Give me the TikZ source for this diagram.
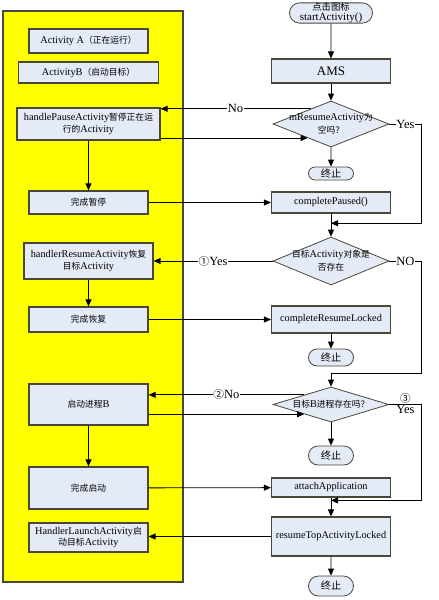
\documentclass[tikz,border=0pt]{standalone}
\usepackage{fontspec}
\setmainfont{Liberation Serif}
\newfontfamily\cjk{Noto Sans CJK SC}[Scale=0.85]
\usetikzlibrary{positioning,shapes.geometric,shapes.misc,arrows.meta,calc}
\definecolor{boxblue}{RGB}{228,235,247}
\definecolor{edgegray}{RGB}{72,72,56}
\definecolor{laneyellow}{RGB}{255,255,0}
\newcommand{\zh}[1]{{\cjk #1}}

\begin{document}
\begin{tikzpicture}[x=1pt, y=-1pt]
    \tikzstyle{lane} = [rectangle, draw=edgegray, line width=1.2pt, fill=laneyellow, minimum width=180pt, minimum height=571pt, inner sep=0pt]
    \tikzstyle{stepbox} = [rectangle, draw=edgegray, line width=1.1pt, fill=boxblue, inner sep=1pt, minimum width=119pt, text centered, align=center, font=\fontsize{10.3}{11.5}\selectfont]
    \tikzstyle{decision} = [diamond, draw=edgegray, line width=0.8pt, fill=boxblue, inner sep=0pt, minimum width=116pt, minimum height=46pt]
    \tikzstyle{dtext} = [inner sep=0pt, align=center, font=\fontsize{10.3}{13}\selectfont]
    \tikzstyle{term} = [rounded rectangle, draw=edgegray, line width=0.8pt, fill=boxblue, inner sep=0pt, minimum width=45pt, minimum height=17pt, align=center, font=\fontsize{12}{12}\selectfont]
    \tikzstyle{lbl} = [fill=white, inner sep=0.5pt, font=\fontsize{12.5}{13}\selectfont]
    \tikzstyle{flow} = [-{Triangle[length=7pt,width=6pt]}, line width=0.8pt]
    \tikzstyle{link} = [line width=0.8pt]

    \useasboundingbox (0,0) rectangle (439,600);

    % App side
    \node [lane] (lane) at (93,296.5) {};
    \node [stepbox, minimum height=24pt] (actA) at (88.5,41) {Activity A\zh{（正在运行）}};
    \node [stepbox, minimum width=140pt, minimum height=21pt] (actB) at (88.5,72.5) {ActivityB\zh{（启动目标）}};
    \node [stepbox, minimum width=143pt, minimum height=32pt] (pause) at (88.5,124) {handlePauseActivity\zh{暂停正在运}\\\zh{行的}Activity};
    \node [stepbox, minimum height=23pt] (paused) at (88.5,202.5) {\zh{完成暂停}};
    \node [stepbox, minimum width=129pt, minimum height=36pt] (resume) at (88.5,261) {handlerResumeActivity\zh{恢复}\\\zh{目标}Activity};
    \node [stepbox, minimum height=25pt] (resumed) at (88.5,319.5) {\zh{完成恢复}};
    \node [stepbox, minimum height=41pt] (launchB) at (88.5,404.5) {\zh{启动进程}B};
    \node [stepbox, minimum height=42pt] (launched) at (88.5,488) {\zh{完成启动}};
    \node [stepbox, minimum height=29pt] (launchAct) at (88.5,537.5) {HandlerLaunchActivity\zh{启}\\\zh{动目标}Activity};

    % AMS side
    \node [term, minimum width=83pt, minimum height=20pt, font=\fontsize{11}{10}\selectfont] (start) at (331,13) {\zh{点击图标}\\startActivity()};
    \node [stepbox, minimum height=24pt, font=\fontsize{13}{14}\selectfont] (ams) at (331,71) {AMS};
    \node [decision] (d1) at (331,124) {};
    \node [dtext] (d1txt) at (d1) {mResumeActivity\zh{为}\\\zh{空吗？}};
    \node [term, minimum height=13pt] (end1) at (331,173.5) {\zh{终止}};
    \node [stepbox, minimum height=21pt] (cpaused) at (331,202.5) {completePaused()};
    \node [decision, minimum height=48pt] (d2) at (331,261) {};
    \node [dtext] (d2txt) at (d2) {\zh{目标}Activity\zh{对象是}\\\zh{否存在}};
    \node [stepbox, minimum height=27pt] (cresume) at (331,319.5) {completeResumeLocked};
    \node [term] (end2) at (331,357.5) {\zh{终止}};
    \node [decision, minimum height=35pt] (d3) at (331,404.5) {};
    \node [dtext] (d3txt) at (d3) {\zh{目标}B\zh{进程存在吗？}};
    \node [term, minimum height=19pt] (end3) at (331,455.5) {\zh{终止}};
    \node [stepbox, minimum height=19pt] (attach) at (331,487.5) {attachApplication};
    \node [stepbox, minimum height=39pt] (rtop) at (331,536.5) {resumeTopActivityLocked};
    \node [term, minimum height=20pt] (end4) at (331,586) {\zh{终止}};

    % Join points
    \coordinate (d1no) at ($(d1.north)!0.35!(d1.west)$);
    \coordinate (d1in) at ($(d1.west)!0.6!(d1.south)$);
    \coordinate (j1) at ($(cpaused.south)!0.42!(d2.north)$);
    \coordinate (j2) at ($(end2.south)!0.33!(d3.north)$);
    \coordinate (d3no) at ($(d3.north)!0.46!(d3.west)$);
    \coordinate (d3in) at ($(d3.west)!0.54!(d3.south)$);
    \coordinate (j3) at ($(attach.south)!0.15!(rtop.north)$);

    % Arrows
    \draw [flow] (start) -- (ams);
    \draw [flow] (ams) -- (d1);
    \draw [flow] (d1) -- (end1);
    \draw [flow] (d1no) -- node [lbl] (noA) {No} (d1no -| pause.east);
    \draw [flow] (pause.east |- d1in) -- (d1in);
    \draw [flow] (d1.east) -- node [lbl] (yesA) {Yes} ++(32,0) |- (j1);
    \draw [flow] (pause) -- (paused);
    \draw [flow] (paused) -- (cpaused);
    \draw [flow] (cpaused) -- (d2);
    \draw [flow] (d2.west) -- node [lbl] (yesB) {\zh{①}Yes} (resume.east);
    \draw [link] (d2.east) -- node [lbl] (noB) {NO} ++(32,0) |- (j2);
    \draw [flow] (j2) -- (d3.north);
    \draw [flow] (resume) -- (resumed);
    \draw [flow] (resumed) -- (cresume);
    \draw [flow] (cresume) -- (end2);
    \draw [flow] (d3no) -- node [lbl] (noC) {\zh{②}No} (d3no -| launchB.east);
    \draw [flow] (launchB.east |- d3in) -- (d3in);
    \draw [flow] (d3.east) -- node [lbl, above=0.5pt, fill=none] (numC) {\zh{③}} node [lbl, below=0pt, fill=none] (yesC) {Yes} ++(32,0) |- (j3);
    \draw [flow] (d3) -- (end3);
    \draw [flow] (launchB) -- (launched);
    \draw [flow] (launched) -- (attach);
    \draw [flow] (attach) -- (rtop);
    \draw [flow] (rtop.west) -- (rtop.west -| launchAct.east);
    \draw [flow] (rtop) -- (end4);
\end{tikzpicture}
\end{document}
